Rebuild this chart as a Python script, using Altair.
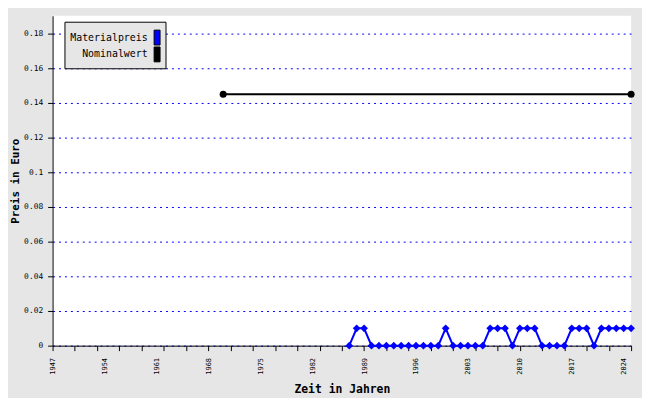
import altair as alt
import pandas as pd

# ---- data ----
series = ["Materialpreis", "Nominalwert"]
series_colors = ["#0000ff", "#000000"]

mat_years = list(range(1987, 2026))
mat_values = [0.0, 0.01, 0.01, 0.0, 0.0, 0.0, 0.0, 0.0, 0.0, 0.0, 0.0, 0.0, 0.0,
              0.01, 0.0, 0.0, 0.0, 0.0, 0.0, 0.01, 0.01, 0.01, 0.0, 0.01, 0.01,
              0.01, 0.0, 0.0, 0.0, 0.0, 0.01, 0.01, 0.01, 0.0, 0.01, 0.01, 0.01,
              0.01, 0.01]

nom_years = [1970, 2025]
nom_values = [0.145, 0.145]

x_tick_years = list(range(1947, 2026, 3))
x_label_years = list(range(1947, 2026, 7))
y_ticks = [0, 0.02, 0.04, 0.06, 0.08, 0.1, 0.12, 0.14, 0.16, 0.18]

df = pd.concat([
    pd.DataFrame({"Jahr": mat_years, "Preis": mat_values, "Serie": series[0]}),
    pd.DataFrame({"Jahr": nom_years, "Preis": nom_values, "Serie": series[1]}),
], ignore_index=True)

FONT = "DejaVu Sans Mono"
xscale = alt.Scale(domain=[1947, 2025], nice=False, zero=False)
# upper bound chosen so every 0.02 step falls on a whole pixel (35 px)
yscale = alt.Scale(domain=[0, 0.19029], nice=False, zero=True)

color = alt.Color("Serie:N", scale=alt.Scale(domain=series, range=series_colors),
                  legend=None)

y = alt.Y(
    "Preis:Q",
    scale=yscale,
    axis=alt.Axis(
        values=y_ticks,
        format="~g",
        title="Preis in Euro",
        grid=True,
        gridColor="#0000ff",
        gridDash=[2, 4],
        gridWidth=1,
        tickSize=5,
        labelPadding=5,
        titlePadding=3,
        titleFontSize=11,
    ),
)

x_ticks = alt.X(
    "Jahr:Q",
    scale=xscale,
    axis=alt.Axis(values=x_tick_years, labels=False, tickSize=5, title=None,
                  grid=False, orient="bottom"),
)
x_labels = alt.X(
    "Jahr:Q",
    scale=xscale,
    axis=alt.Axis(values=x_label_years, ticks=False, tickSize=0, domain=False,
                  labelAngle=270, labelPadding=12, format="d",
                  labelFontSize=7, title="Zeit in Jahren", titlePadding=9,
                  grid=False, orient="bottom"),
)
x_none = alt.X("Jahr:Q", scale=xscale, axis=None)

base = alt.Chart(df)

lines = base.mark_line(strokeWidth=2).encode(x=x_ticks, y=y, color=color)

mat_pts = base.transform_filter(alt.datum.Serie == series[0]).mark_point(
    shape="diamond", filled=True, size=60, opacity=1
).encode(x=x_labels, y=y, color=color)

nom_pts = base.transform_filter(alt.datum.Serie == series[1]).mark_circle(
    size=50, opacity=1
).encode(x=x_none, y=y, color=color)

# ---- legend box (text left, swatch right, as in the reference) ----
legend_layers = [
    alt.Chart(pd.DataFrame({"Serie": [series[0]]})).mark_rect(
        fill="#e6e6e6", stroke="#000000", strokeWidth=1
    ).encode(x=alt.value(12.5), x2=alt.value(114.5), y=alt.value(6.5), y2=alt.value(53.5))
]
for i, (name, col) in enumerate(zip(series, series_colors)):
    cy = 22 + 17 * i
    src = alt.Chart(pd.DataFrame({"Serie": [name]}))
    legend_layers.append(
        src.mark_text(align="right", baseline="middle", font=FONT, fontSize=10,
                      color="#000000").encode(
            x=alt.value(96), y=alt.value(cy), text="Serie:N")
    )
    legend_layers.append(
        src.mark_rect(fill=col, stroke="#000000", strokeWidth=1).encode(
            x=alt.value(102.5), x2=alt.value(108.5),
            y=alt.value(cy - 7.5), y2=alt.value(cy + 7.5))
    )

chart = (
    alt.layer(lines, mat_pts, nom_pts, *legend_layers)
    .resolve_axis(x="independent")
    .properties(
        width=584,
        height=333,
        autosize=alt.AutoSizeParams(type="none"),
        padding={"left": 45, "top": 6, "right": 11, "bottom": 51},
        background="#e6e6e6",
    )
    .configure_view(fill="#ffffff", stroke=None)
    .configure_axis(
        labelFont=FONT,
        labelFontSize=8,
        labelColor="#000000",
        titleFont=FONT,
        titleFontSize=11.5,
        titleFontWeight="bold",
        titleColor="#000000",
        domainColor="#000000",
        domainWidth=1,
        tickColor="#000000",
        tickWidth=1,
    )
)

chart.save("out.html", embed_options={"renderer": "svg", "actions": False})
